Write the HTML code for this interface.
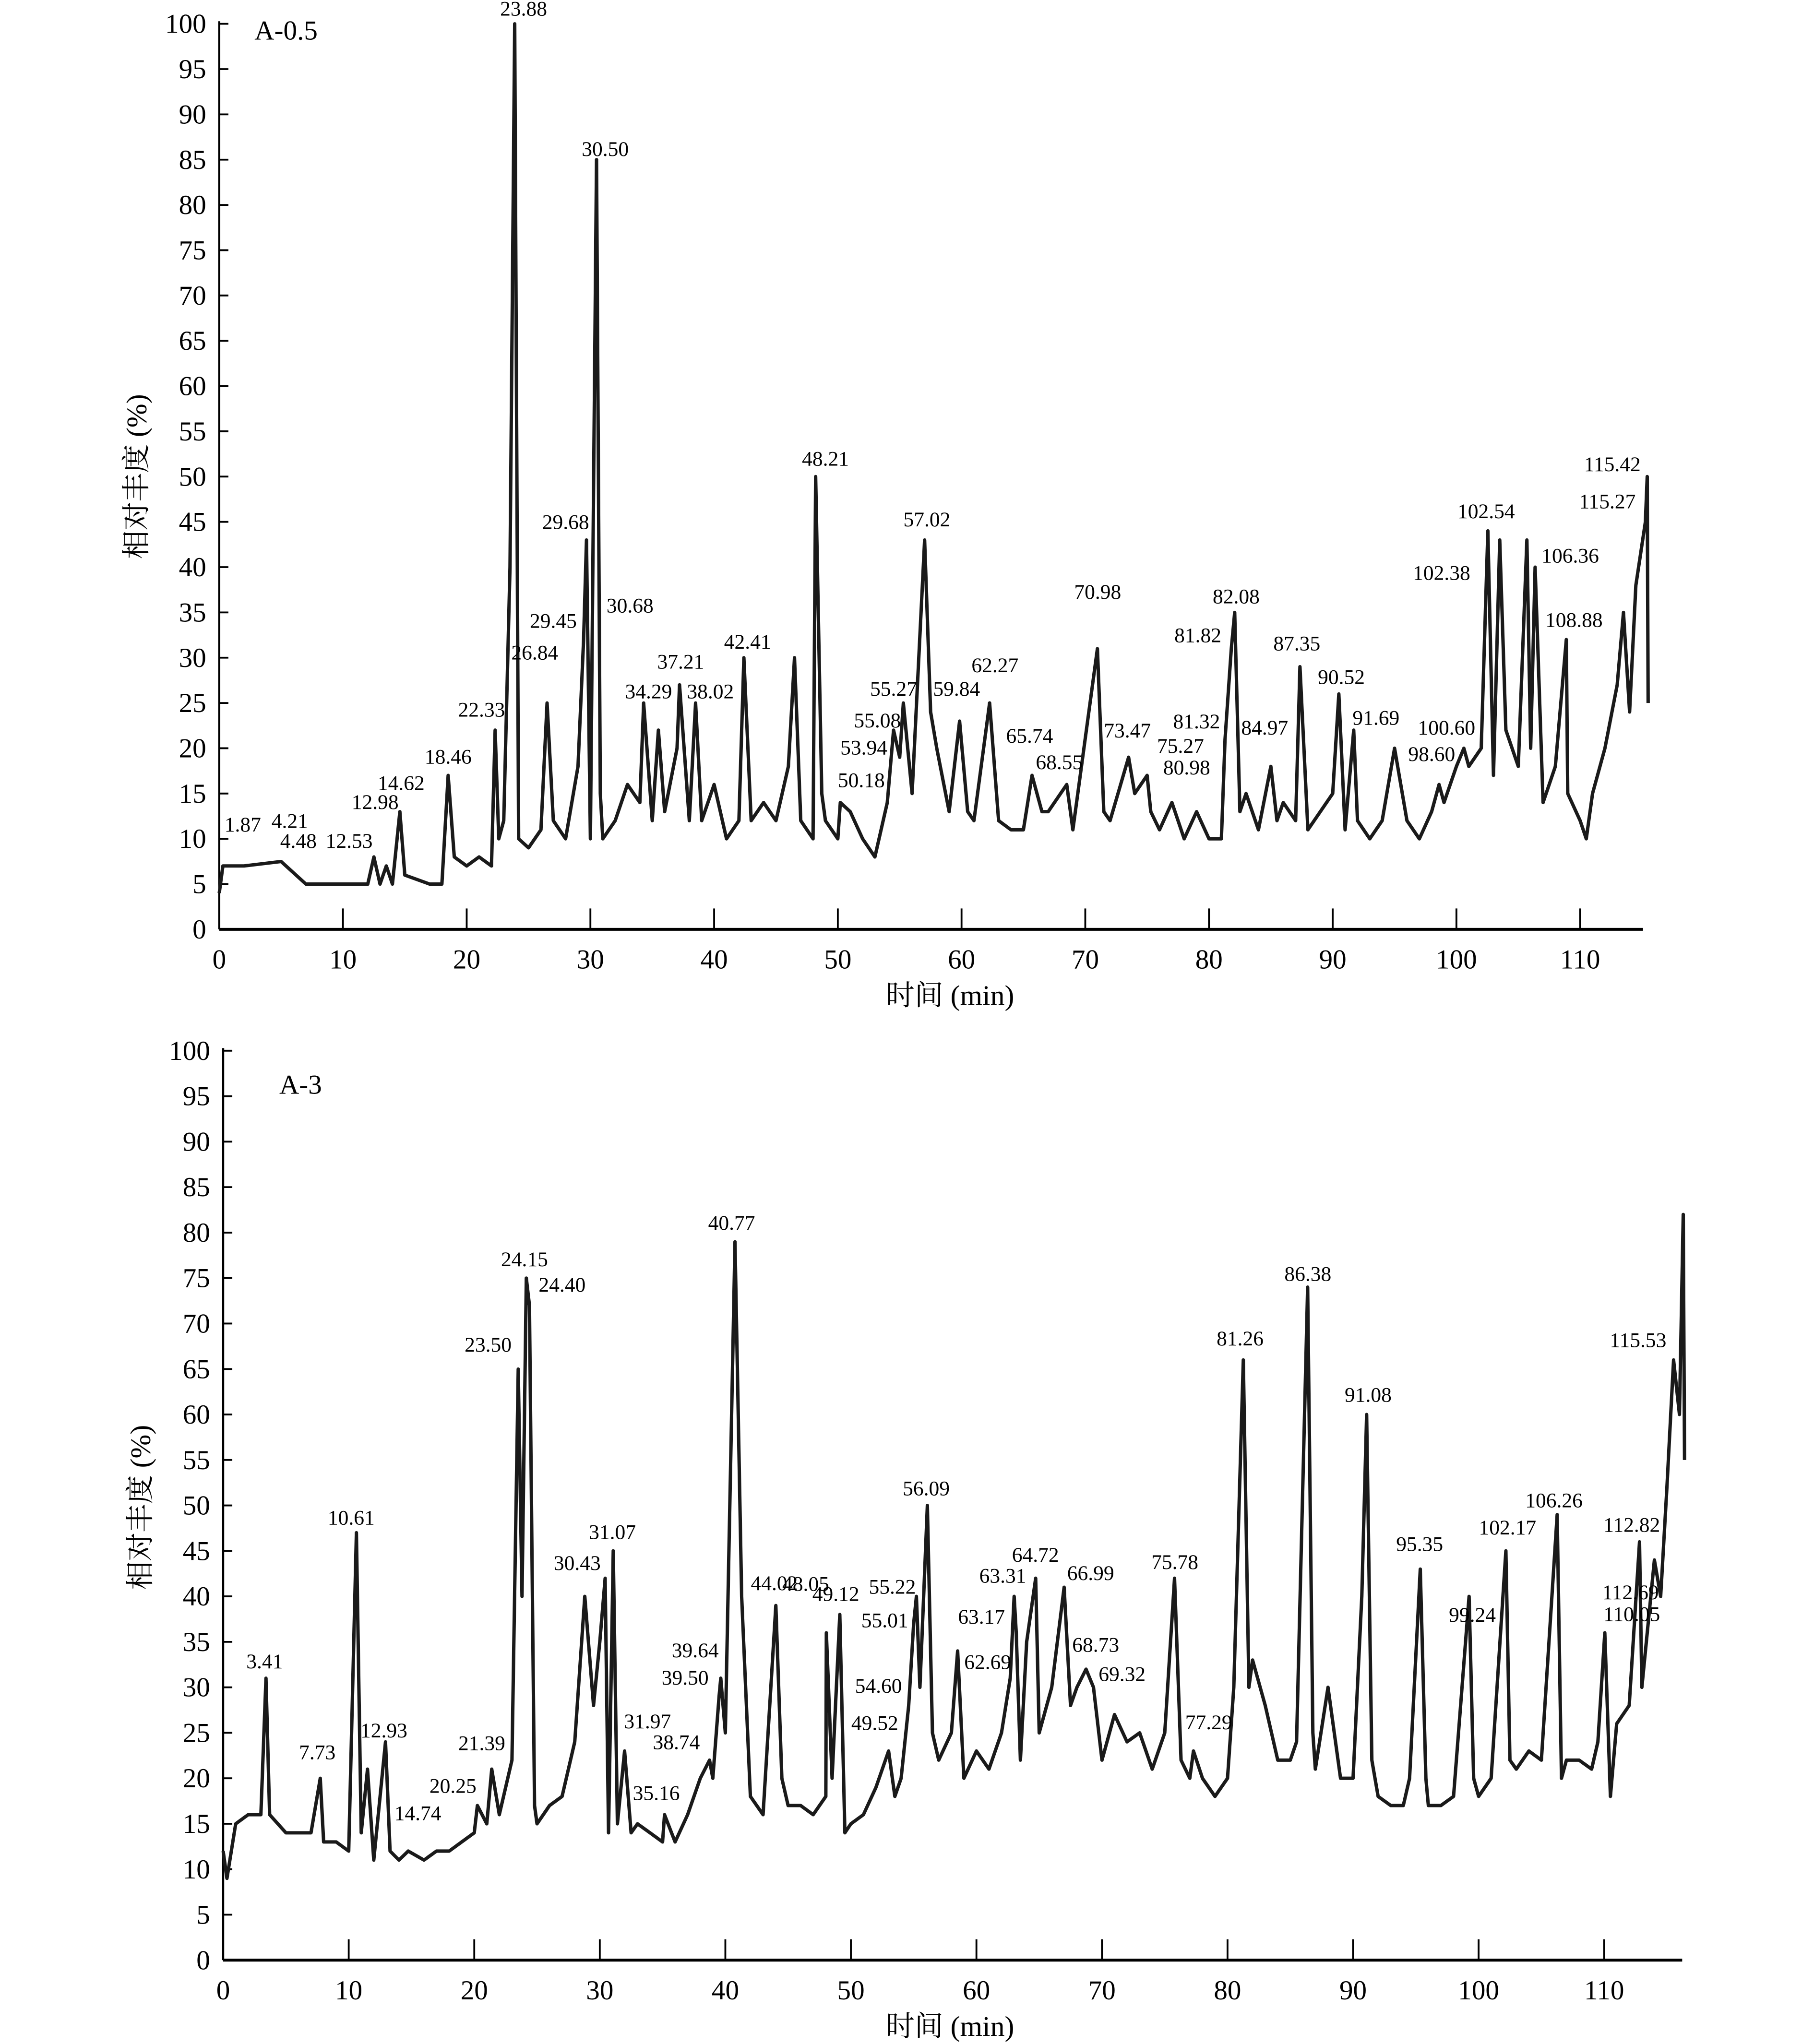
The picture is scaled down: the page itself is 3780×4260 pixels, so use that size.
<!DOCTYPE html>
<html><head><meta charset="utf-8"><style>
html,body{margin:0;padding:0;background:#fff;}
svg{display:block;}
text{font-family:"Liberation Serif","Noto Serif CJK SC",serif;fill:#000;}
</style></head><body>
<svg id="root" width="3780" height="4260" viewBox="0 0 1390 1566" xmlns="http://www.w3.org/2000/svg"></svg>
<script>
// ---------- Panel A-0.5 data ----------
const topTimes=[0,0.3,2,5,7,10,12,12.5,13,13.5,14,14.6,15,17,18,18.5,19,20,21,22,22.3,22.6,23,23.5,23.88,24.2,25,26,26.5,27,28,29,29.45,29.68,30,30.5,30.8,31,32,33,34,34.3,35,35.5,36,37,37.2,38,38.5,39,40,41,42,42.4,43,44,45,46,46.5,47,48,48.21,48.7,49,50,50.2,51,52,53,54,54.5,55,55.3,56,57.02,57.5,58,59,59.84,60.5,61,62.27,63,64,65,65.7,66.5,67,68.5,69,70.98,71.5,72,73.5,74,75,75.3,76,77,78,79,80,81,81.3,81.8,82.08,82.5,83,84,85,85.5,86,87,87.35,88,89,90,90.5,91,91.7,92,93,94,95,96,97,98,98.6,99,100,100.6,101,102,102.38,102.54,103,103.5,104,105,105.7,106,106.36,107,108,108.88,109,110,110.5,111,112,113,113.5,114,114.5,115.27,115.42,115.5];
const topValues=[4,7,7,7.5,5,5,5,8,5,7,5,13,6,5,5,17,8,7,8,7,22,10,12,40,100,10,9,11,25,12,10,18,32,43,10,85,15,10,12,16,14,25,12,22,13,20,27,12,25,12,16,10,12,30,12,14,12,18,30,12,10,50,15,12,10,14,13,10,8,14,22,19,25,15,43,24,20,13,23,13,12,25,12,11,11,17,13,13,16,11,31,13,12,19,15,17,13,11,14,10,13,10,10,21,31,35,13,15,11,18,12,14,12,29,11,13,15,26,11,22,12,10,12,20,12,10,13,16,14,18,20,18,20,37,44,17,43,22,18,43,20,40,14,18,32,15,12,10,15,20,27,35,24,38,45,50,25];
const topLabels=["1.87","4.21","4.48","12.53","12.98","14.62","18.46","22.33","23.88","30.50","29.68","29.45","26.84","30.68","34.29","37.21","38.02","42.41","48.21","55.27","55.08","53.94","50.18","57.02","59.84","62.27","65.74","68.55","70.98","73.47","81.32","75.27","80.98","81.82","82.08","84.97","87.35","90.52","91.69","100.60","98.60","102.38","102.54","106.36","108.88","115.27","115.42"];
const topLabelT=[1.9,5.7,6.4,10.5,12.6,14.7,18.5,21.2,24.6,31.2,28,27,25.5,33.2,34.7,37.3,39.7,42.7,49,54.5,53.2,52.1,51.9,57.2,59.6,62.7,65.5,67.9,71,73.4,79,77.7,78.2,79.1,82.2,84.5,87.1,90.7,93.5,99.2,98,98.8,102.4,109.2,109.5,112.2,112.6];
const topLabelV=[10.8,11.2,9,9,13.3,15.4,18.3,23.5,100.9,85.4,44.2,33.3,29.8,35,25.5,28.8,25.5,31,51.2,25.8,22.3,19.3,15.7,44.5,25.8,28.4,20.6,17.7,36.5,21.2,22.2,19.5,17.1,31.7,36,21.5,30.8,27.1,22.6,21.5,18.6,38.6,45.4,40.5,33.4,46.5,50.6];
const xTicksTop=[0,10,20,30,40,50,60,70,80,90,100,110];
const yTicks=[0,5,10,15,20,25,30,35,40,45,50,55,60,65,70,75,80,85,90,95,100];

// ---------- Panel A-3 data ----------
const botTimes=[0,0.3,1,2,3,3.41,3.7,5,7,7.73,8,9,10,10.61,11,11.5,12,12.93,13.3,14,14.74,16,17,18,19,20,20.25,21,21.39,22,23,23.5,23.8,24.15,24.4,24.8,25,26,27,28,28.8,29.5,30,30.43,30.7,31.07,31.4,31.97,32.5,33,34,35,35.16,36,37,38,38.74,39,39.5,39.64,40,40.77,41.3,42,43,44.02,44.5,45,46,47,48,48.05,48.5,49.12,49.52,50,51,52,53,53.5,54,54.6,55,55.22,55.5,56.09,56.5,57,58,58.5,59,60,61,62,62.69,63,63.17,63.5,64,64.72,65,66,66.99,67.5,68,68.73,69.32,70,71,72,73,74,75,75.78,76.3,77,77.29,78,79,80,80.5,81.26,81.7,82,83,84,85,85.5,86.38,86.8,87,88,89,90,90.7,91.08,91.5,92,93,94,94.5,95.35,95.8,96,97,98,99.24,99.6,100,101,102.17,102.5,103,104,105,106.26,106.6,107,108,109,109.5,110.05,110.5,111,112,112.82,113,114,114.5,115,115.53,116,116.3,116.4];
const botValues=[12,9,15,16,16,31,16,14,14,20,13,13,12,47,14,21,11,24,12,11,12,11,12,12,13,14,17,15,21,16,22,65,40,75,72,17,15,17,18,24,40,28,35,42,14,45,15,23,14,15,14,13,16,13,16,20,22,20,29,31,25,79,40,18,16,39,20,17,17,16,18,36,20,38,14,15,16,19,23,18,20,28,37,40,30,50,25,22,25,34,20,23,21,25,31,40,36,22,35,42,25,30,41,28,30,32,30,22,27,24,25,21,25,42,22,20,23,20,18,20,30,66,30,33,28,22,22,24,74,25,21,30,20,20,40,60,22,18,17,17,20,43,20,17,17,18,40,20,18,20,45,22,21,23,22,49,20,22,22,21,24,36,18,26,28,46,30,44,40,52,66,60,82,55];
const botLabels=["3.41","7.73","10.61","12.93","14.74","20.25","21.39","23.50","24.15","24.40","30.43","31.07","31.97","35.16","38.74","39.50","39.64","40.77","44.02","48.05","49.12","49.52","54.60","55.01","55.22","56.09","63.17","62.69","63.31","64.72","66.99","68.73","69.32","75.78","77.29","81.26","86.38","91.08","95.35","99.24","102.17","106.26","112.82","112.69","110.05","115.53"];
const botLabelT=[3.3,7.5,10.2,12.8,15.5,18.3,20.6,21.1,24,27,28.2,31,33.8,34.5,36.1,36.8,37.6,40.5,43.9,46.4,48.8,51.9,52.2,52.7,53.3,56,60.4,60.9,62.1,64.7,69.1,69.5,71.6,75.8,78.5,81,86.4,91.2,95.3,99.5,102.3,106,112.2,112.1,112.2,112.7];
const botLabelV=[32.1,22.1,47.9,24.5,15.4,18.4,23.1,66.9,76.3,73.5,42.9,46.3,25.5,17.6,23.2,30.3,33.3,80.3,40.7,40.6,39.5,25.3,29.4,36.6,40.3,51.1,37,32,41.5,43.8,41.8,33.9,30.7,43,25.4,67.6,74.7,61.4,45,37.2,46.8,49.8,47.1,39.7,37.3,67.4];
const xTicksBot=[0,10,20,30,40,50,60,70,80,90,100,110];

const NS="http://www.w3.org/2000/svg";
const root=document.getElementById('root');
function mk(tag,attrs,parent){const e=document.createElementNS(NS,tag);for(const k in attrs)e.setAttribute(k,attrs[k]);(parent||root).appendChild(e);return e;}

function panel(cfg){
  const g=mk('g',{});
  
  
  const xs=t=>cfg.x0+t*cfg.kx;
  const ys=v=>cfg.y0-v*cfg.ky;
  const ya=mk('line',{x1:cfg.x0,y1:ys(100)-2,x2:cfg.x0,y2:cfg.y0,stroke:'#000','stroke-width':1.6},g);
  
  
  const xa=mk('line',{x1:cfg.x0,y1:cfg.y0,x2:cfg.xEnd,y2:cfg.y0,stroke:'#000','stroke-width':2.2},g);
  
  
  yTicks.forEach(v=>{
    mk('line',{x1:cfg.x0,y1:ys(v),x2:cfg.x0+7,y2:ys(v),stroke:'#000','stroke-width':1.4},g);
    const t=mk('text',{x:cfg.x0-10,y:ys(v)+7,'text-anchor':'end','font-size':21},g);
    
    
    t.textContent=v;
  });
  cfg.xTicks.forEach(v=>{
    if(v>0)mk('line',{x1:xs(v),y1:cfg.y0,x2:xs(v),y2:cfg.y0-16,stroke:'#000','stroke-width':1.4},g);
    const t=mk('text',{x:xs(v),y:cfg.y0+30,'text-anchor':'middle','font-size':21},g);
    
    
    t.textContent=v;
  });
  let d='';
  cfg.times.forEach((t,i)=>{d+=(i?'L':'M')+xs(t).toFixed(1)+' '+ys(cfg.values[i]).toFixed(1);});
  const p=mk('path',{d:d,fill:'none',stroke:'#1a1a1a','stroke-width':2.6,'stroke-linejoin':'round'},g);
  
  
  cfg.labels.forEach((s,i)=>{
    const t=mk('text',{x:xs(cfg.lt[i]),y:ys(cfg.lv[i]),'text-anchor':'middle','font-size':16},g);
    
    
    t.textContent=s;
  });
  const pl=mk('text',{x:cfg.plx,y:cfg.ply,'font-size':21},g);
  
  
  pl.textContent=cfg.title;
  const yt=mk('text',{x:0,y:0,'text-anchor':'middle','font-size':22,transform:'translate('+(cfg.x0-56)+','+(cfg.y0-347)+') rotate(-90)'},g);
  
  
  yt.textContent='相对丰度 (%)';
  const xt=mk('text',{x:728,y:cfg.y0+58,'text-anchor':'middle','font-size':22},g);
  
  
  xt.textContent='时间 (min)';
}
panel({name:'panel-a-0-5',title:'A-0.5',plx:195,ply:30,x0:168,y0:712,kx:9.48,ky:6.94,xEnd:1259,xTicks:xTicksTop,times:topTimes,values:topValues,labels:topLabels,lt:topLabelT,lv:topLabelV});
panel({name:'panel-a-3',title:'A-3',plx:214,ply:838,x0:171,y0:1502,kx:9.62,ky:6.97,xEnd:1289,xTicks:xTicksBot,times:botTimes,values:botValues,labels:botLabels,lt:botLabelT,lv:botLabelV});
</script>
</body></html>
